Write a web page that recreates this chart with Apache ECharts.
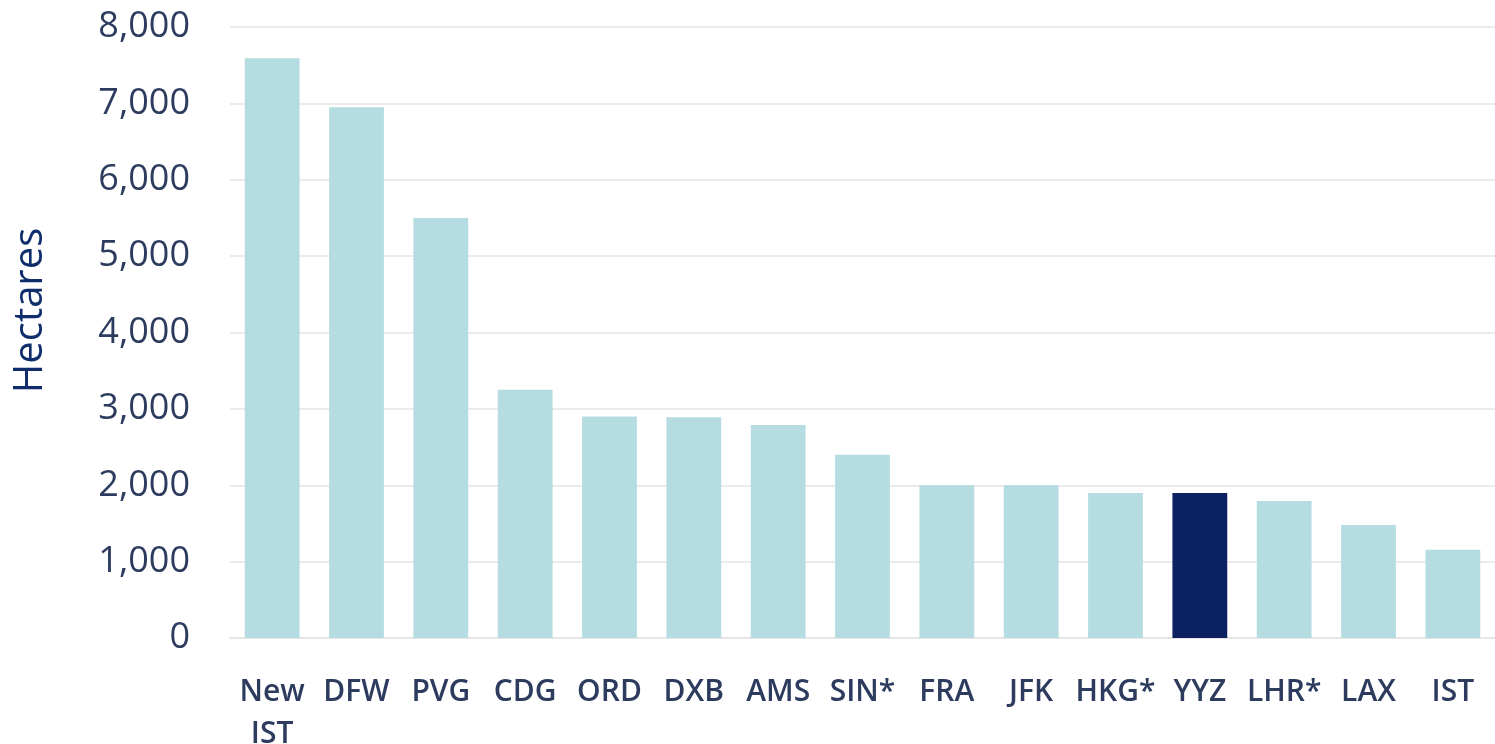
<!DOCTYPE html>
<html>
<head>
<meta charset="utf-8">
<script src="https://cdn.jsdelivr.net/npm/echarts@6/dist/echarts.min.js"></script>
<style>
  html, body { margin: 0; padding: 0; background: #ffffff; }
  #chart { width: 1495px; height: 744px; }
</style>
</head>
<body>
<div id="chart"></div>
<script>
var airports = ['New\nIST', 'DFW', 'PVG', 'CDG', 'ORD', 'DXB', 'AMS', 'SIN*', 'FRA', 'JFK', 'HKG*', 'YYZ', 'LHR*', 'LAX', 'IST'];
var hectares = [7590, 6950, 5500, 3250, 2900, 2890, 2790, 2400, 2000, 2000, 1900, 1900, 1795, 1480, 1155];
var highlight = 'YYZ';

var chart = echarts.init(document.getElementById('chart'));

var option = {
  backgroundColor: '#ffffff',
  animation: false,
  grid: {
    left: 230,
    right: 0,
    top: 27,
    bottom: 106,
    outerBoundsMode: 'none'
  },
  xAxis: {
    type: 'category',
    data: airports,
    axisLine: { show: true, lineStyle: { color: '#e6e6e6', width: 2 } },
    axisTick: { show: false },
    axisLabel: {
      margin: 33,
      fontFamily: 'Open Sans',
      fontSize: 30,
      fontWeight: 600,
      color: '#2d3c5e',
      lineHeight: 42,
      interval: 0
    }
  },
  yAxis: {
    type: 'value',
    min: 0,
    max: 8000,
    interval: 1000,
    name: 'Hectares',
    nameLocation: 'middle',
    nameGap: 179,
    nameRotate: 90,
    nameTextStyle: {
      fontFamily: 'Open Sans',
      fontSize: 40,
      color: '#0f2d6b',
      padding: [0, 0, 0, 44]
    },
    axisLine: { show: false },
    axisTick: { show: false },
    axisLabel: {
      margin: 40,
      fontFamily: 'Open Sans',
      fontSize: 36,
      color: '#2d3c5e',
      formatter: function (v) { return v.toLocaleString('en-US'); }
    },
    splitLine: { lineStyle: { color: '#ebebeb', width: 2 } }
  },
  series: [{
    type: 'bar',
    barCategoryGap: '35%',
    data: hectares.map(function (v, i) {
      return {
        value: v,
        itemStyle: { color: airports[i] === highlight ? '#0b2161' : '#b5dde1' }
      };
    })
  }]
};

chart.setOption(option);
</script>
</body>
</html>
